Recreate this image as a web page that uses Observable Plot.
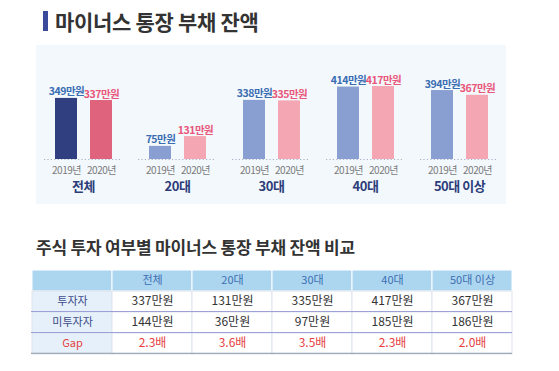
<!DOCTYPE html>
<html><head><meta charset="utf-8">
<script src="https://cdn.jsdelivr.net/npm/d3@7"></script>
<script src="https://cdn.jsdelivr.net/npm/@observablehq/plot@0.6"></script>
<style>
body{margin:0;background:#fff;width:559px;height:371px;position:relative;overflow:hidden;font-family:"Noto Sans CJK KR","Noto Sans",sans-serif;}
#t1{position:absolute;left:43px;top:7px;height:28px;display:flex;align-items:center;font-size:21px;font-weight:700;color:#333;letter-spacing:-0.3px;}
#t1 .bar{display:inline-block;width:5px;height:20px;background:#3a4b9c;margin-right:7px;}
#panel{position:absolute;left:36px;top:45px;width:470px;height:159px;background:#f3f8fd;}
#t2{position:absolute;left:36px;top:234px;font-size:17px;font-weight:700;color:#333;letter-spacing:-0.2px;}
#tbl{position:absolute;left:31px;top:268px;}
</style></head>
<body>
<div id="t1"><span class="bar"></span>마이너스 통장 부채 잔액</div>
<div id="panel"></div>
<div id="t2">주식 투자 여부별 마이너스 통장 부채 잔액 비교</div>
<div id="tbl"></div>
<script>
// ---- data ----
const groups = ["전체", "20대", "30대", "40대", "50대 이상"];
const years = ["2019년", "2020년"];
const debt2019 = [349, 75, 338, 414, 394];
const debt2020 = [337, 131, 335, 417, 367];

const columns = ["전체", "20대", "30대", "40대", "50대 이상"];
const rowLabels = ["투자자", "미투자자", "Gap"];
const investor = [337, 131, 335, 417, 367];
const nonInvestor = [144, 36, 97, 185, 186];
const gapRatio = [2.3, 3.6, 3.5, 2.3, 2.0];

// ---- styles ----
const totalColors = {"2019년": "#2f3f7f", "2020년": "#e0637e"};
const ageColors = {"2019년": "#8a9fd1", "2020년": "#f4a7b3"};
const labelColors = {"2019년": "#3a6db2", "2020년": "#e8577a"};
const font = '"Noto Sans CJK KR","Noto Sans",sans-serif';

const bars = [];
groups.forEach((g, i) => {
  bars.push({group: g, year: years[0], value: debt2019[i]});
  bars.push({group: g, year: years[1], value: debt2020[i]});
});

const chart = Plot.plot({
  width: 470, height: 160,
  marginTop: 16, marginBottom: 46, marginLeft: 0, marginRight: 0,
  style: {fontFamily: font, background: "transparent", overflow: "visible", letterSpacing: "-0.5px"},
  fx: {domain: groups, padding: 0, axis: null},
  x: {domain: years, paddingInner: 0.38, paddingOuter: 0.514, axis: null},
  y: {domain: [0, 560], axis: null},
  color: {type: "identity"},
  marks: [
    Plot.ruleY([0], {stroke: "#aab3c6", strokeDasharray: "1.2,2.2", strokeWidth: 1.2, insetLeft: 8, insetRight: 8}),
    Plot.barY(bars, {fx: "group", x: "year", y: "value",
      fill: d => d.group === "전체" ? totalColors[d.year] : ageColors[d.year]}),
    Plot.text(bars, {fx: "group", x: "year", y: "value", text: d => d.value + "만원",
      lineAnchor: "bottom", dy: -3, fontSize: 10.5, fontWeight: 600,
      fill: d => labelColors[d.year]}),
    Plot.text(bars, {fx: "group", x: "year", text: "year", frameAnchor: "bottom",
      dy: 14, fontSize: 10, fill: "#7a7a7a"}),
    Plot.text(groups, {fx: d => d, text: d => d, frameAnchor: "bottom",
      dy: 31, fontSize: 13, fontWeight: 700, fill: "#2d3d7a"})
  ]
});
document.getElementById("panel").appendChild(chart);

// ---- table ----
const colKeys = ["항목", ...columns];
const rowKeys = ["헤더", ...rowLabels];
const cells = [];
colKeys.forEach((c, ci) => {
  cells.push({col: c, row: "헤더", text: ci === 0 ? "" : c, kind: "header"});
});
const rowValues = [
  investor.map(v => v + "만원"),
  nonInvestor.map(v => v + "만원"),
  gapRatio.map(v => v.toFixed(1) + "배")
];
rowLabels.forEach((r, ri) => {
  cells.push({col: "항목", row: r, text: r, kind: r === "Gap" ? "gaplabel" : "label"});
  columns.forEach((c, ci) => {
    cells.push({col: c, row: r, text: rowValues[ri][ci], kind: r === "Gap" ? "gap" : "value"});
  });
});
const cellFill = {header: "#acd5ef", label: "#e5f0fa", gaplabel: "#e5f0fa", value: "#ffffff", gap: "#ffffff"};
const textFill = {header: "#3d6fb3", label: "#3c4a8a", gaplabel: "#e5413f", value: "#333333", gap: "#e5413f"};
const textSize = {header: 11, label: 11, gaplabel: 11, value: 12, gap: 12};
const textWeight = {header: 500, label: 600, gaplabel: 500, value: 500, gap: 600};

const table = Plot.plot({
  width: 481, height: 87,
  margin: 0,
  style: {fontFamily: font, background: "transparent", overflow: "visible"},
  x: {domain: colKeys, padding: 0, axis: null},
  y: {domain: rowKeys, padding: 0, axis: null},
  color: {type: "identity"},
  marks: [
    Plot.cell(cells, {x: "col", y: "row", fill: d => cellFill[d.kind],
      stroke: d => d.kind === "header" ? "#ffffff" : "#dde4ec", strokeWidth: 1}),
    Plot.cell(rowLabels.slice(0, 2), {y: d => d, fill: "#8b8fd0", insetTop: 20.2}),
    Plot.cell(rowLabels.slice(2), {y: d => d, fill: "#a3abb9", insetTop: 19.7}),
    Plot.text(cells, {x: "col", y: "row", text: "text",
      fill: d => textFill[d.kind], fontSize: d => textSize[d.kind], fontWeight: d => textWeight[d.kind], dy: -0.5})
  ]
});
document.getElementById("tbl").appendChild(table);
</script>
</body></html>
